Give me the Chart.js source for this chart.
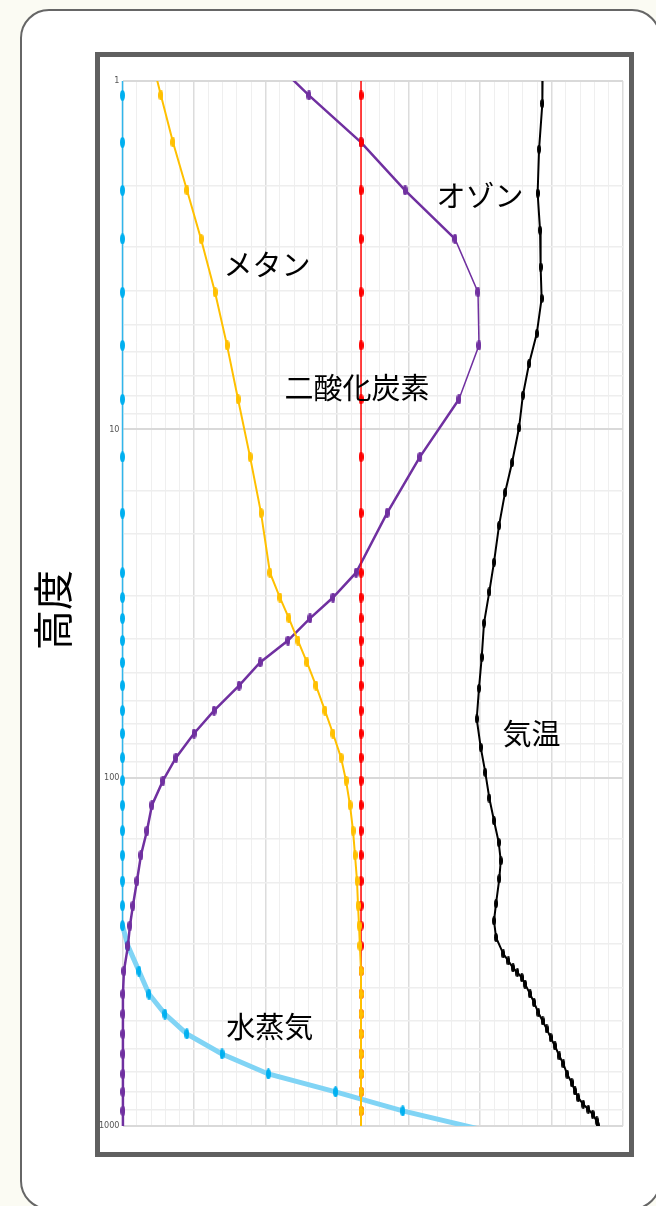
<!DOCTYPE html>
<html lang="ja">
<head>
<meta charset="utf-8">
<title>高度と大気成分・気温</title>
<script src="https://cdn.jsdelivr.net/npm/chart.js@4/dist/chart.umd.min.js"></script>
<style>
  html, body { margin: 0; padding: 0; background: #fbfbf3; }
  #wrap { position: relative; width: 656px; height: 1206px; }
  canvas { display: block; }
</style>
</head>
<body>
<div id="wrap"><canvas id="chart" width="656" height="1206"></canvas></div>
<script>
// Pressure-like height levels (log axis, 1 at top, 1000 at bottom)
const levels = [0.8, 1.1, 1.5, 2.06, 2.84, 4.04, 5.74, 8.2, 12, 17.4, 25.8, 30.4, 34.9, 40.4, 46.7, 54.4, 64.2, 74.7, 87.6, 102, 120, 142, 167, 198, 233, 266, 304, 359, 418, 477, 544, 621, 709, 798, 905, 1100];

// Relative amounts on the shared horizontal scale (0–35)
const waterVapor = [0, 0, 0, 0, 0, 0, 0, 0, 0, 0, 0, 0, 0, 0, 0, 0, 0, 0, 0, 0, 0, 0, 0, 0, 0, 0, 0.38, 1.15, 1.85, 2.97, 4.5, 6.96, 10.2, 14.9, 19.6, 28.3];
const carbonDioxide = [16.68, 16.68, 16.68, 16.68, 16.68, 16.68, 16.68, 16.68, 16.68, 16.68, 16.68, 16.68, 16.68, 16.68, 16.68, 16.68, 16.68, 16.68, 16.68, 16.68, 16.68, 16.68, 16.68, 16.68, 16.68, 16.68, 16.68, 16.68, 16.68, 16.68, 16.68, 16.68, 16.68, 16.68, 16.68, 16.68];
const methane = [1.84, 2.69, 3.53, 4.51, 5.49, 6.47, 7.31, 8.08, 8.92, 9.69, 10.31, 11.01, 11.64, 12.27, 12.90, 13.53, 14.16, 14.72, 15.28, 15.63, 15.91, 16.12, 16.26, 16.4, 16.47, 16.54, 16.6, 16.68, 16.68, 16.68, 16.68, 16.68, 16.68, 16.68, 16.68, 16.68];
const ozone = [9.58, 13.04, 16.68, 19.76, 23.25, 24.86, 24.93, 23.53, 20.8, 18.5, 16.33, 14.72, 13.11, 11.57, 9.62, 8.15, 6.4, 5.0, 3.74, 2.83, 2.06, 1.71, 1.29, 1.01, 0.73, 0.52, 0.38, 0.1, 0.03, 0.03, 0.03, 0.03, 0.03, 0.03, 0.03, 0.03];

// Temperature profile has its own, denser set of levels
const tempLevels = [0.8, 1.16, 1.57, 2.1, 2.68, 3.42, 4.21, 5.31, 6.48, 7.98, 9.9, 12.47, 15.2, 18.9, 24.06, 29.3, 36.0, 45.1, 55.4, 67.8, 81.8, 96.6, 114.4, 132.9, 153.5, 173.2, 195.1, 230, 257.6, 287.6, 320.4, 335.7, 351.6, 362.6, 374.9, 391.5, 417.6, 442.3, 472.5, 499.3, 526.4, 557.5, 589, 629.5, 663, 710.3, 750.6, 793.2, 829.3, 866.1, 895.4, 925.6, 967.4, 1000];
const temperature = [29.4, 29.36, 29.13, 29.03, 29.2, 29.24, 29.31, 28.97, 28.43, 28.0, 27.73, 27.24, 26.75, 26.33, 25.98, 25.65, 25.28, 25.12, 24.93, 24.77, 25.05, 25.37, 25.65, 25.98, 26.31, 26.45, 26.35, 26.12, 25.98, 26.12, 26.63, 26.98, 27.31, 27.61, 27.92, 28.15, 28.5, 28.78, 29.08, 29.38, 29.66, 29.94, 30.24, 30.55, 30.83, 31.1, 31.41, 31.64, 31.87, 32.22, 32.57, 32.88, 33.16, 33.23];

const yTicks = [1, 10, 100, 1000];

const seriesNames = { water: '水蒸気', co2: '二酸化炭素', ch4: 'メタン', o3: 'オゾン', temp: '気温' };
const axisTitle = '高度';

const pairs = (ys, xs) => ys.map((p, i) => ({ x: xs[i], y: p }));

// Small upright ellipse used as the point marker
function ellipseMarker(color, w, h) {
  const c = document.createElement('canvas');
  c.width = w; c.height = h;
  const g = c.getContext('2d');
  g.fillStyle = color;
  g.beginPath();
  g.ellipse(w / 2, h / 2, w / 2, h / 2, 0, 0, Math.PI * 2);
  g.fill();
  return c;
}

const JP = '"Noto Sans CJK JP", "Noto Sans", sans-serif';

// Page frame, outer rounded panel and the inner chart border
const framePlugin = {
  id: 'frame',
  beforeDraw(chart) {
    const ctx = chart.ctx;
    ctx.save();
    ctx.fillStyle = '#fbfbf3';
    ctx.fillRect(0, 0, chart.width, chart.height);
    // rounded panel
    ctx.beginPath();
    ctx.roundRect(21, 10, 639, 1199, 28);
    ctx.fillStyle = '#ffffff';
    ctx.fill();
    ctx.lineWidth = 2;
    ctx.strokeStyle = '#666666';
    ctx.stroke();
    // inner border
    ctx.lineWidth = 5;
    ctx.strokeStyle = '#606060';
    ctx.strokeRect(97.5, 54.5, 534, 1100);
    // vertical axis title
    ctx.translate(53, 610);
    ctx.rotate(-Math.PI / 2);
    ctx.fillStyle = '#000';
    ctx.font = '40px ' + JP;
    ctx.textAlign = 'center';
    ctx.textBaseline = 'middle';
    ctx.fillText(axisTitle, 0, 0);
    ctx.restore();
  }
};

// Series names written inside the plot, placed in data coordinates
const seriesLabels = [
  { text: seriesNames.o3, x: 25.0, y: 2.14 },
  { text: seriesNames.ch4, x: 10.1, y: 3.38 },
  { text: seriesNames.co2, x: 16.4, y: 7.63 },
  { text: seriesNames.water, x: 10.3, y: 520 },
  { text: seriesNames.temp, x: 28.6, y: 74.7 }
];
const labelPlugin = {
  id: 'seriesLabels',
  afterDatasetsDraw(chart) {
    const ctx = chart.ctx;
    const xs = chart.scales.x, ys = chart.scales.y;
    ctx.save();
    ctx.fillStyle = '#000';
    ctx.font = '29px ' + JP;
    ctx.textAlign = 'center';
    ctx.textBaseline = 'middle';
    seriesLabels.forEach(l => ctx.fillText(l.text, xs.getPixelForValue(l.x), ys.getPixelForValue(l.y)));
    ctx.restore();
  }
};

// Clip to the plot area, but let markers sitting on the left axis show whole
const plotClip = { left: 6, top: 0, right: 0, bottom: 0 };

// Lower `order` is drawn on top
const ds = (label, data, lineColor, width, marker, order, extra) => Object.assign({
  label, data, order,
  borderColor: lineColor,
  borderWidth: width,
  pointStyle: marker,
  pointRadius: 5,
  pointHoverRadius: 5,
  tension: 0,
  fill: false,
  clip: plotClip
}, extra || {});

new Chart(document.getElementById('chart'), {
  type: 'line',
  data: {
    datasets: [
      ds(seriesNames.water, pairs(levels, waterVapor), '#2fb6ec', 1.5, ellipseMarker('#00b0f0', 5, 11), 3, {
        segment: {
          borderWidth: c => (waterVapor[c.p1DataIndex] > 0 ? 5 : 1.5),
          borderColor: c => (waterVapor[c.p1DataIndex] > 0 ? '#80d4f5' : '#2fb6ec')
        }
      }),
      ds(seriesNames.o3, pairs(levels, ozone), '#7030a0', 2.5, ellipseMarker('#7030a0', 5, 10), 2, {
        segment: {
          borderWidth: c => (c.p0DataIndex >= 4 && c.p0DataIndex <= 6 ? 1.5 : 2.5)
        }
      }),
      ds(seriesNames.co2, pairs(levels, carbonDioxide), '#ff0000', 1.5, ellipseMarker('#ff0000', 5, 10), 1),
      ds(seriesNames.ch4, pairs(levels, methane), '#ffc000', 2, ellipseMarker('#ffc000', 5, 10), 0),
      ds(seriesNames.temp, pairs(tempLevels, temperature), '#000000', 2, ellipseMarker('#000000', 4, 9), 4)
    ]
  },
  options: {
    responsive: false,
    animation: false,
    events: [],
    layout: { padding: { left: 0, right: 33, top: 81, bottom: 80 } },
    plugins: { legend: { display: false }, tooltip: { enabled: false } },
    scales: {
      x: {
        type: 'linear',
        min: 0, max: 35,
        border: { display: false },
        grid: {
          drawTicks: false,
          lineWidth: c => (c.tick && c.tick.value % 5 === 0 ? 1.5 : 1),
          color: c => (c.tick && c.tick.value % 5 === 0 ? '#dcdcdc' : '#efefef')
        },
        ticks: { display: false, stepSize: 1 },
        afterFit: s => { s.height = 0; }
      },
      y: {
        type: 'logarithmic',
        reverse: true,
        min: 1, max: 1000,
        border: { display: false },
        grid: {
          drawTicks: false,
          lineWidth: c => (c.tick && yTicks.includes(c.tick.value) ? 2 : 1.5),
          color: c => (c.tick && yTicks.includes(c.tick.value) ? '#d9d9d9' : '#eeeeee')
        },
        ticks: {
          autoSkip: false,
          padding: 3,
          color: '#555',
          font: { family: '"Liberation Sans Narrow", "DejaVu Sans Condensed", sans-serif', size: 9 },
          callback: v => (yTicks.includes(v) ? String(v) : '')
        },
        afterFit: s => { s.width = 122.5; }
      }
    }
  },
  plugins: [framePlugin, labelPlugin]
});
</script>
</body>
</html>
